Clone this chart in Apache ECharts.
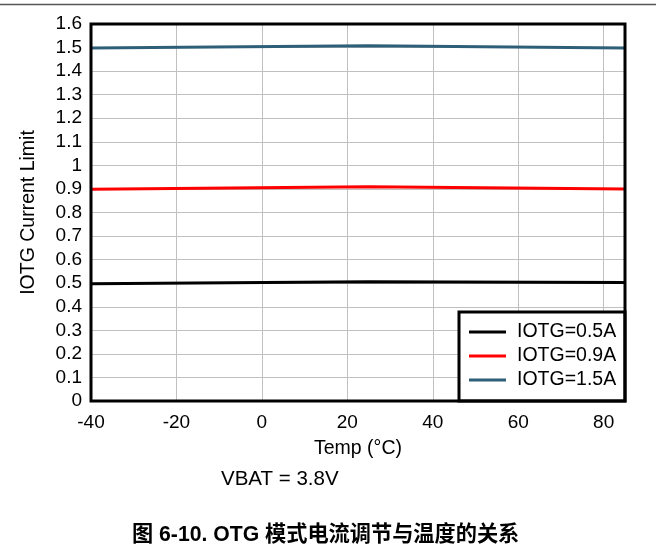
<!DOCTYPE html>
<html>
<head>
<meta charset="utf-8">
<script src="https://cdn.jsdelivr.net/npm/echarts@6/dist/echarts.min.js"></script>
<style>
html,body{margin:0;padding:0;background:#fff;}
#chart{width:656px;height:557px;}
</style>
</head>
<body>
<div id="chart"></div>
<script>
const temps = [-40, 25, 85];
const iotg05 = [0.498, 0.506, 0.503];
const iotg09 = [0.899, 0.909, 0.900];
const iotg15 = [1.498, 1.508, 1.498];
const seriesNames = ['IOTG=0.5A', 'IOTG=0.9A', 'IOTG=1.5A'];
const seriesColors = ['#000000', '#ff0000', '#2e5f78'];
const xTicks = [-40, -20, 0, 20, 40, 60, 80];
const yTicks = [0, 0.1, 0.2, 0.3, 0.4, 0.5, 0.6, 0.7, 0.8, 0.9, 1, 1.1, 1.2, 1.3, 1.4, 1.5, 1.6];

const FONT = '"Liberation Sans", Arial, sans-serif';
const chart = echarts.init(document.getElementById('chart'), null, {renderer: 'canvas'});

function mk(name, vals, color) {
  return {
    name: name, type: 'line', data: temps.map((t, i) => [t, vals[i]]),
    showSymbol: false, symbol: 'none', lineStyle: {color: color, width: 3}, itemStyle: {color: color},
    z: 3, animation: false
  };
}

chart.setOption({
  animation: false,
  backgroundColor: '#ffffff',
  grid: {left: 91, top: 24, width: 534, height: 377, containLabel: false, show: false},
  xAxis: {
    type: 'value', min: -40, max: 85, interval: 20,
    name: 'Temp (°C)', nameLocation: 'middle', nameGap: 38,
    nameTextStyle: {fontFamily: FONT, fontSize: 19.5, color: '#000'},
    axisLine: {show: false},
    axisTick: {show: false},
    axisLabel: {fontFamily: FONT, fontSize: 19, color: '#000', margin: 12,
      formatter: v => xTicks.includes(v) ? String(v) : ''},
    splitLine: {show: true, lineStyle: {color: '#c0c0c0', width: 1}}
  },
  yAxis: {
    type: 'value', min: 0, max: 1.6, interval: 0.1,
    name: 'IOTG Current Limit', nameLocation: 'middle', nameGap: 52, nameRotate: 90,
    nameTextStyle: {fontFamily: FONT, fontSize: 19.5, color: '#000'},
    axisLine: {show: false},
    axisTick: {show: false},
    axisLabel: {fontFamily: FONT, fontSize: 19, color: '#000', margin: 9,
      formatter: v => { const r = Math.round(v * 10) / 10; return yTicks.includes(r) ? String(r) : ''; }},
    splitLine: {show: true, lineStyle: {color: '#c0c0c0', width: 1}}
  },
  legend: {
    data: seriesNames,
    orient: 'vertical',
    left: 464, top: 317,
    icon: 'rect', itemWidth: 37, itemHeight: 3, itemGap: 4,
    textStyle: {fontFamily: FONT, fontSize: 19.5, color: '#000', padding: [0, 0, 0, 6]},
    z: 10
  },
  series: [
    mk(seriesNames[0], iotg05, seriesColors[0]),
    mk(seriesNames[1], iotg09, seriesColors[1]),
    mk(seriesNames[2], iotg15, seriesColors[2])
  ],
  graphic: [
    {type: 'line', shape: {x1: 0, y1: 4.5, x2: 656, y2: 4.5}, style: {stroke: '#555', lineWidth: 1.5}, z: 20},
    {type: 'rect', shape: {x: 91, y: 24, width: 534, height: 377}, style: {fill: null, stroke: '#000', lineWidth: 3}, z: 20},
    {type: 'rect', shape: {x: 459, y: 312, width: 166, height: 89}, style: {fill: '#fff', stroke: '#000', lineWidth: 3}, z: 5},
    {type: 'text', left: 221, top: 469, style: {text: 'VBAT = 3.8V', font: '20.5px ' + FONT, fill: '#000'}, z: 20},
    {type: 'text', left: 132, top: 525,
      style: {text: '图 6-10. OTG 模式电流调节与温度的关系', font: 'bold 21.2px "Liberation Sans", "Noto Sans CJK SC", sans-serif', fill: '#000'}, z: 20}
  ]
});
</script>
</body>
</html>
